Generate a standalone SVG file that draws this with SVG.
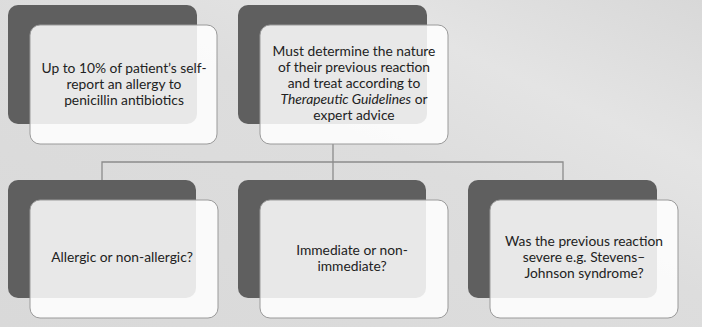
<svg xmlns="http://www.w3.org/2000/svg" width="702" height="327" viewBox="0 0 702 327">
<defs>
<linearGradient id="bg" x1="0" y1="1" x2="1" y2="0">
<stop offset="0" stop-color="#d9d9d9"/>
<stop offset="0.55" stop-color="#dddddd"/>
<stop offset="0.75" stop-color="#e4e4e4"/>
<stop offset="1" stop-color="#d8d8d8"/>
</linearGradient>
<style>
.back{fill:#5f5f5f;}
.front{fill:#ffffff;fill-opacity:0.86;stroke:#9a9a9a;stroke-width:1;}
.t{font-family:Lato,"Open Sans","Liberation Sans",sans-serif;font-size:13.8px;fill:#222222;text-anchor:middle;}
.conn{fill:none;stroke:#8c8c8c;stroke-width:1.3;}
</style>
</defs>
<rect x="0" y="0" width="702" height="327" fill="url(#bg)"/>
<g id="connectors">
<path class="conn" d="M333 144 V162 M102 180 V162 H563 V180 M333 162 V180"/>
</g>
<g id="node1">
<rect class="back" x="8" y="5" width="189" height="119" rx="10"/>
<rect class="front" x="30" y="25" width="187" height="119" rx="10"/>
<text class="t" x="124" y="73">Up to 10% of patient’s self-</text>
<text class="t" x="124" y="89">report an allergy to</text>
<text class="t" x="124" y="105">penicillin antibiotics</text>
</g>
<g id="node2">
<rect class="back" x="238" y="5" width="189" height="119" rx="10"/>
<rect class="front" x="260" y="25" width="188" height="119" rx="10"/>
<text class="t" x="354" y="56">Must determine the nature</text>
<text class="t" x="354" y="72">of their previous reaction</text>
<text class="t" x="354" y="88">and treat according to</text>
<text class="t" x="354" y="104"><tspan font-style="italic">Therapeutic Guidelines</tspan> or</text>
<text class="t" x="354" y="120">expert advice</text>
</g>
<g id="node3">
<rect class="back" x="8" y="180" width="188" height="118" rx="10"/>
<rect class="front" x="30" y="200" width="188" height="118" rx="10"/>
<text class="t" x="122" y="262">Allergic or non-allergic?</text>
</g>
<g id="node4">
<rect class="back" x="238" y="180" width="188" height="118" rx="10"/>
<rect class="front" x="260" y="200" width="188" height="118" rx="10"/>
<text class="t" x="352" y="255">Immediate or non-</text>
<text class="t" x="352" y="271">immediate?</text>
</g>
<g id="node5">
<rect class="back" x="468" y="180" width="189" height="118" rx="10"/>
<rect class="front" x="490" y="200" width="188" height="118" rx="10"/>
<text class="t" x="584" y="246">Was the previous reaction</text>
<text class="t" x="584" y="262">severe e.g. Stevens–</text>
<text class="t" x="584" y="278">Johnson syndrome?</text>
</g>
</svg>
